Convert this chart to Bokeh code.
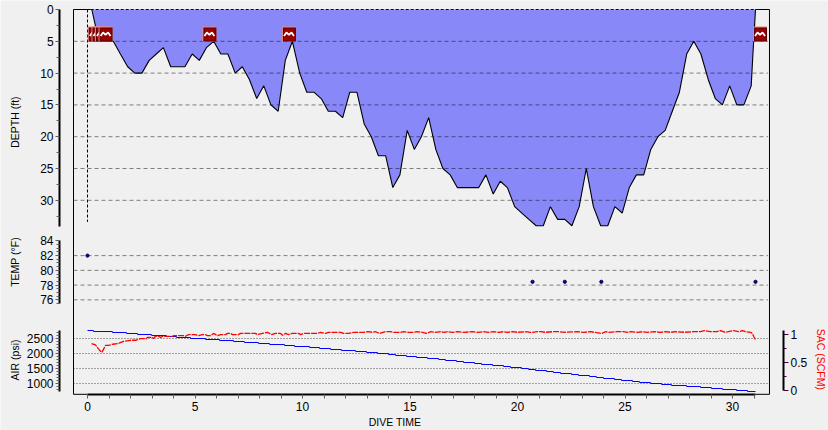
from bokeh.plotting import figure
from bokeh.models import Range1d, LinearAxis, FixedTicker, Label
from bokeh.embed import file_html
from bokeh.resources import INLINE

FONT = "Liberation Sans"

depth_time = [0.2,0.53,0.87,1.2,1.53,1.87,2.2,2.53,2.87,3.2,3.53,3.87,4.2,4.53,4.87,5.2,5.53,5.87,6.2,6.53,6.87,7.2,7.53,7.87,
              8.2,8.53,8.87,9.2,9.53,9.87,10.2,10.53,10.87,11.2,11.53,11.87,12.2,12.53,12.87,13.2,13.53,13.87,14.2,14.53,14.87,
              15.2,15.53,15.87,16.2,16.53,16.87,17.2,17.53,17.87,18.2,18.53,18.87,19.2,19.53,19.87,20.2,20.53,20.87,21.2,21.53,
              21.87,22.2,22.53,22.87,23.2,23.53,23.87,24.2,24.53,24.87,25.2,25.53,25.87,26.2,26.53,26.87,27.2,27.53,27.87,28.2,
              28.53,28.87,29.2,29.53,29.87,30.2,30.53,30.87,30.95,31.07]
depth_ft = [0,5,5,5,7,9,10,10,8,7,6,9,9,9,7,8,6,5,7,7,10,9,11,14,12,15,16,8,5,10,13,13,14,16,16,17,13,13,18,20,23,23,28,26,19,22,20,17,
            22,25,26,28,28,28,28,26,29,27,28,31,32,33,34,34,31,33,33,34,31,25,31,34,34,31,32,28,26,26,22,20,19,16,13,7,5,7,11,14,15,12,15,15,12,7,0]
event_time = [0.34,0.51,0.67,0.84,5.67,9.37,31.28]
temp_time = [0.0,20.7,22.2,23.9,31.07]
temp_f = [82,78.45,78.45,78.45,78.45]
air_time = [0,.28,1.16,1.81,2.33,2.98,3.67,4.14,4.79,5.49,6.14,6.79,7.30,7.95,8.47,9.16,9.63,10.33,10.79,11.30,11.81,12.47,12.98,13.49,14.0,14.33,14.84,15.30,15.81,16.33,16.65,17.16,17.49,18.0,18.33,18.84,19.35,19.67,20.19,20.51,20.84,21.35,21.67,22.0,22.51,22.84,23.35,23.67,24.0,24.51,24.84,25.35,25.67,26.19,26.70,27.16,27.86,28.51,29.02,29.53,30.19,30.70,31.07]
air_psi = [2767,2733,2700,2667,2633,2600,2567,2533,2500,2467,2433,2400,2367,2333,2300,2267,2233,2200,2167,2133,2100,2067,2033,2000,1967,1933,1900,1867,1833,1800,1767,1733,1700,1667,1633,1600,1567,1533,1500,1467,1433,1400,1367,1333,1300,1267,1233,1200,1167,1133,1100,1067,1033,1000,967,933,900,867,833,800,767,733,733]
sac_points = [(.19,.83),(.37,.81),(.51,.74),(.6,.70),(.68,.68),(.74,.73),(.84,.80),(.98,.80),(1.16,.82),(1.4,.83),(1.67,.87),(2.0,.89),
              (2.23,.89),(2.33,.90),(2.47,.92),(2.74,.92),(2.79,.94),(3.02,.94),(3.07,.92),(3.16,.96),(3.3,.96),(3.4,.94),(3.49,.96),(3.95,.96),
              (4.0,.97),(4.47,.97),(4.56,.96),(4.7,.99),(5.02,.99),(5.16,.97),(5.35,.99),(5.49,.99),(5.58,.97),(5.72,.97),(5.86,1.01),(6.05,.97),
              (6.19,.99),(6.42,.99),(6.51,1.01),(6.65,1.01),(6.74,.99),(7.02,.99),(7.12,1.01),(7.44,1.01),(7.58,1.01),(7.81,1.01),(7.91,.99),
              (8.14,1.01),(8.37,1.03),(8.56,.99),(8.74,1.01),(8.98,1.01),(9.07,.98),(9.21,1.01),(9.35,.99),(9.53,1.01),(9.81,1.01),(9.91,.99),
              (10.05,1.01),(10.7,1.01),(10.84,1.03),(11.07,1.01),(11.21,1.03),(11.77,1.03),(11.91,1.01),(12.14,1.01),(12.37,1.03),(12.84,1.03),
              (13.02,1.04),(13.26,1.03),(13.4,1.04),(13.58,1.01),(13.86,1.04),(14.09,1.04),(14.23,1.03),(14.56,1.03),(14.7,1.04),(14.93,1.03),
              (15.16,1.03),(15.35,1.04),(15.58,1.03),(15.77,1.01),(15.95,1.04),(16.19,1.03),(16.42,1.04),(16.6,1.03),(16.74,1.04),(16.98,1.03),
              (17.21,1.04),(17.49,1.03),(17.91,1.04),(18.14,1.03),(18.42,1.04),(18.65,1.03),(18.88,1.04),(19.12,1.03),(19.35,1.04),(19.53,1.03),
              (19.77,1.04),(20.0,1.03),(20.37,1.04),(20.6,1.03),(20.7,1.03),(20.93,1.04),(21.07,1.04),(21.3,1.03),(21.63,1.04),(21.91,1.04),
              (22.23,1.03),(22.79,1.04),(23.07,1.03),(23.4,1.04),(23.91,1.01),(24.09,1.04),(24.28,1.03),(24.6,1.04),(24.93,1.04),(25.12,1.03),
              (25.26,1.04),(25.58,1.03),(25.81,1.04),(26.05,1.03),(26.37,1.04),(26.65,1.03),(26.88,1.04),(27.12,1.03),(27.35,1.04),(27.77,1.03),
              (28.14,1.04),(28.51,1.04),(28.7,1.06),(28.98,1.04),(29.26,1.04),(29.44,1.06),(29.67,1.03),(29.81,1.04),(30.05,1.06),(30.28,1.04),
              (30.47,1.06),(30.6,1.04),(30.84,1.03),(30.93,1.01),(30.98,.96),(31.07,.90)]
sac_time = [a for a, b in sac_points]
sac_scfm = [b for a, b in sac_points]
depth_major = [0,5,10,15,20,25,30]
depth_grid = [5,10,15,20,25,30]
depth_minor = [2.5,7.5,12.5,17.5,22.5,27.5,32.5]
temp_major = [76,78,80,82,84]
temp_grid = [76,78,80,82]
temp_minor = [75.5,76.5,77,77.5,78.5,79,79.5,80.5,81,81.5,82.5,83,83.5]
air_major = [1000,1500,2000,2500]
air_minor = [800,900,1100,1200,1300,1400,1600,1700,1800,1900,2100,2200,2300,2400,2600,2700]
sac_major = [0,0.5,1]
sac_minor = [0.25,0.75]
time_major = [0,5,10,15,20,25,30]
time_minor = [1,2,3,4,6,7,8,9,11,12,13,14,16,17,18,19,21,22,23,24,26,27,28,29,31]

PX_T = 21.5   # pixels per minute
PX_D = 6.36   # pixels per foot
XF0, XF1 = -14 / PX_T, 31.72   # frame left/right, minutes
YF1 = 60.5                # frame bottom, feet
AX_L, AX_R = -1.3, 32.37  # spine positions, minutes

BG = "#f0f0f0"
p = figure(width=828, height=430, output_backend="svg", toolbar_location=None,
           x_range=Range1d(-87 / PX_T, (828 - 87) / PX_T),
           y_range=Range1d(66.19, -1.415),
           min_border=0, min_border_left=0, min_border_right=0, min_border_top=0, min_border_bottom=0,
           background_fill_color=BG, border_fill_color=BG, outline_line_color=None,
           x_axis_type=None, y_axis_type=None)
p.grid.visible = False
p.extra_y_ranges = {"temp": Range1d(58.28, 116.60), "air": Range1d(-566, 13767), "sac": Range1d(-0.693, 6.851)}

# dive profile
p.varea(depth_time, y1=[0] * len(depth_time), y2=depth_ft, fill_color="#8888f8")

# grids
p.segment(XF0, depth_grid, 31.65, depth_grid, line_color="black", line_alpha=0.48, line_dash="4 3")
p.segment(XF0, temp_grid, 31.65, temp_grid, y_range_name="temp", line_color="black", line_alpha=0.48, line_dash="4 3")
p.segment(XF0, air_major, XF1, air_major, y_range_name="air", line_color="#505050", line_width=1, line_dash="1 2")

p.line(depth_time, depth_ft, line_color="black", line_width=1.1)

# frame
p.segment(XF0, 0, 0.15, 0, line_color="black", line_width=1)
p.segment(31.07, 0, XF1, 0, line_color="black", line_width=1)
p.segment(0.15, 0, 31.07, 0, line_color="black", line_width=1, line_dash="3 2")
p.segment(XF0, 0, XF0, YF1, line_color="black", line_width=1)
p.segment(XF1, 0, XF1, YF1, line_color="black", line_width=1)
p.segment(XF0, YF1, 0, YF1, line_color="black", line_width=1)
p.segment(31.07, YF1, XF1, YF1, line_color="black", line_width=1)
p.segment(0, 0, 0, 33.4, line_color="black", line_width=1, line_dash="3 2")

# event icons
ICON_D = 3.85
for t in event_time:
    p.rect(t, ICON_D, width=14, height=15, width_units="screen", height_units="screen",
           fill_color="#e48a8a", line_color=None)
    p.rect(t + 0.5 / PX_T, ICON_D + 0.5 / PX_D, width=13, height=14, width_units="screen", height_units="screen",
           fill_color="#5a0000", line_color=None)
    p.rect(t + 0.5 / PX_T, ICON_D + 0.5 / PX_D, width=11, height=12, width_units="screen", height_units="screen",
           fill_color="#9a0000", line_color=None)
    p.line([t + dx / PX_T for dx in (-5, -2.5, 0, 2.5, 5)],
           [ICON_D + dy / PX_D for dy in (2, -1.5, 1, -1.5, 2)],
           line_color="white", line_width=1.8)

# temperature points
p.scatter(temp_time, temp_f, y_range_name="temp", size=3.2, marker="circle",
          fill_color="#0000c0", line_color="#000050", line_width=1)

# air and SAC
p.step(air_time, air_psi, y_range_name="air", mode="after", line_color="#0000ff", line_width=1)
p.line(sac_time, sac_scfm, y_range_name="sac", line_color="#ff0000", line_width=1.3, line_dash="6 1")


def style(ax, side_out=3):
    ax.axis_line_color = "black"
    ax.axis_line_width = 2
    ax.major_tick_line_color = "#606060"
    ax.minor_tick_line_color = "#606060"
    ax.major_tick_in = 0
    ax.minor_tick_in = 0
    ax.major_tick_out = side_out + 1
    ax.minor_tick_out = side_out
    ax.major_label_text_font = FONT
    ax.major_label_text_font_size = "12px"
    ax.major_label_text_color = "black"
    ax.major_label_standoff = 2


depth_ax = LinearAxis(fixed_location=AX_L, bounds=(0, 34.1),
                      ticker=FixedTicker(ticks=depth_major, minor_ticks=depth_minor))
style(depth_ax)
p.add_layout(depth_ax, "left")

temp_ax = LinearAxis(fixed_location=AX_L, y_range_name="temp", bounds=(75.55, 84.05),
                     ticker=FixedTicker(ticks=temp_major, minor_ticks=temp_minor))
style(temp_ax)
p.add_layout(temp_ax, "left")

air_ax = LinearAxis(fixed_location=AX_L, y_range_name="air", bounds=(740, 2775),
                    ticker=FixedTicker(ticks=air_major, minor_ticks=air_minor))
style(air_ax)
p.add_layout(air_ax, "left")

sac_ax = LinearAxis(fixed_location=AX_R, y_range_name="sac", bounds=(0, 1.07),
                    ticker=FixedTicker(ticks=sac_major, minor_ticks=sac_minor),
                    major_label_overrides={0: "0", 0.5: "0.5", 1: "1"})
style(sac_ax)
sac_ax.major_tick_line_color = "#400040"
sac_ax.minor_tick_line_color = "#400040"
sac_ax.major_tick_out = 5
sac_ax.minor_tick_out = 3
p.add_layout(sac_ax, "right")

time_ax = LinearAxis(fixed_location=YF1, bounds=(0, 31.07),
                     ticker=FixedTicker(ticks=time_major, minor_ticks=time_minor))
style(time_ax)
time_ax.major_tick_out = 4
time_ax.minor_tick_out = 4
time_ax.major_label_standoff = 4
p.add_layout(time_ax, "below")

# axis titles
def title(text, x, y, angle=1.5708, color="black"):
    p.add_layout(Label(x=x, y=y, text=text, angle=angle, text_align="center", text_baseline="middle",
                       text_font=FONT, text_font_size="10.5px", text_color=color))

title("DEPTH (ft)", -3.36, 17.7)
title("TEMP (°F)", -3.36, 39.7)
title("AIR (psi)", -3.36, 55.1)
title("SAC (SCFM)", 34.1, 55.0, angle=-1.5708, color="#ff0000")
title("DIVE TIME", 14.3, 64.9, angle=0)

open("out.html", "w").write(file_html(p, INLINE))
